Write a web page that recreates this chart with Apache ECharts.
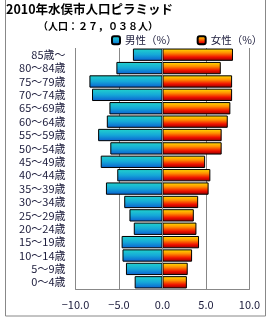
<!DOCTYPE html>
<html>
<head>
<meta charset="utf-8">
<script src="https://cdn.jsdelivr.net/npm/echarts@6/dist/echarts.min.js"></script>
<style>
  html, body { margin: 0; padding: 0; background: #fff; }
  #chart { width: 270px; height: 320px; }
</style>
</head>
<body>
<div id="chart"></div>
<script>
// 年齢階級（上から）
const ageGroups = ['85歳～', '80～84歳', '75～79歳', '70～74歳', '65～69歳', '60～64歳',
  '55～59歳', '50～54歳', '45～49歳', '40～44歳', '35～39歳', '30～34歳',
  '25～29歳', '20～24歳', '15～19歳', '10～14歳', '5～9歳', '0～4歳']
// 男性（%）
const maleValues = [3.4, 5.3, 8.4, 8.1, 6.1, 6.4, 7.4, 6.0, 7.1, 5.2, 6.5, 4.4, 3.8, 3.3, 4.7, 4.6, 4.2, 3.2]
// 女性（%）
const femaleValues = [8.1, 6.7, 8.0, 8.0, 7.8, 7.5, 6.8, 6.8, 4.9, 5.5, 5.3, 4.1, 3.6, 3.9, 4.2, 3.4, 2.9, 2.8]
const xTicks = [-10, -5, 0, 5, 10]

const font = '"Noto Sans CJK JP", sans-serif'
const textColor = '#1a1a3a'

const maleFill = new echarts.graphic.LinearGradient(0, 0, 0, 1, [
  { offset: 0, color: '#22d4cc' },
  { offset: 0.5, color: '#15a8d8' },
  { offset: 1, color: '#0a5ed0' },
])
const femaleFill = new echarts.graphic.LinearGradient(0, 0, 0, 1, [
  { offset: 0, color: '#ffe400' },
  { offset: 0.35, color: '#ff9000' },
  { offset: 0.7, color: '#f01000' },
  { offset: 1, color: '#8a0000' },
])

const myChart = echarts.init(document.getElementById('chart'))
const option = {
  animation: false,
  textStyle: { fontFamily: font },
  title: [
    {
      text: '2010年水俣市人口ピラミッド',
      left: 6,
      top: 3,
      padding: 0,
      textStyle: { fontSize: 12.5, fontWeight: 'bold', color: '#000', fontFamily: font },
    },
    {
      text: '（人口：２７，０３８人）',
      left: 38,
      top: 21,
      padding: 0,
      textStyle: { fontSize: 10, fontWeight: 'bold', color: '#000', fontFamily: font },
    },
  ],
  graphic: [
    {
      type: 'rect',
      shape: { x: 5.5, y: -1, width: 260, height: 317 },
      style: { fill: 'none', stroke: '#888', lineWidth: 1 },
      z: -10,
    },
  ],
  legend: {
    top: 35,
    left: 111,
    itemWidth: 8,
    itemHeight: 8,
    itemGap: 20,
    padding: 0,
    textStyle: { fontSize: 10.5, color: textColor, fontFamily: font },
    data: ['男性（%）', '女性（%）'],
  },
  grid: {
    left: 75.5,
    right: 20.5,
    top: 48,
    bottom: 31,
    containLabel: false,
  },
  xAxis: {
    type: 'value',
    min: xTicks[0],
    max: xTicks[xTicks.length - 1],
    interval: 5,
    axisLine: { show: true, lineStyle: { color: '#888' } },
    axisTick: { show: false },
    axisLabel: {
      margin: 10,
      fontSize: 11,
      color: textColor,
      formatter: (v) => (v < 0 ? '−' + Math.abs(v).toFixed(1) : v.toFixed(1)),
    },
    splitLine: { show: true, lineStyle: { color: '#888', width: 1 } },
  },
  yAxis: {
    type: 'category',
    inverse: true,
    data: ageGroups,
    axisLine: { show: false },
    axisTick: { show: false },
    axisLabel: { interval: 0, margin: 10, fontSize: 11, color: textColor },
  },
  series: [
    {
      name: '男性（%）',
      type: 'bar',
      barGap: '-100%',
      barCategoryGap: '8%',
      data: maleValues.map((v) => -v),
      itemStyle: { color: maleFill, borderColor: '#000', borderWidth: 1 },
    },
    {
      name: '女性（%）',
      type: 'bar',
      barCategoryGap: '8%',
      data: femaleValues,
      itemStyle: { color: femaleFill, borderColor: '#000', borderWidth: 1 },
      markLine: {
        silent: true,
        symbol: 'none',
        label: { show: false },
        lineStyle: { color: '#888', type: 'solid', width: 1 },
        data: [{ xAxis: 0 }],
      },
    },
  ],
}
myChart.setOption(option)
window.addEventListener('resize', () => {
  myChart.resize()
})
</script>
</body>
</html>
